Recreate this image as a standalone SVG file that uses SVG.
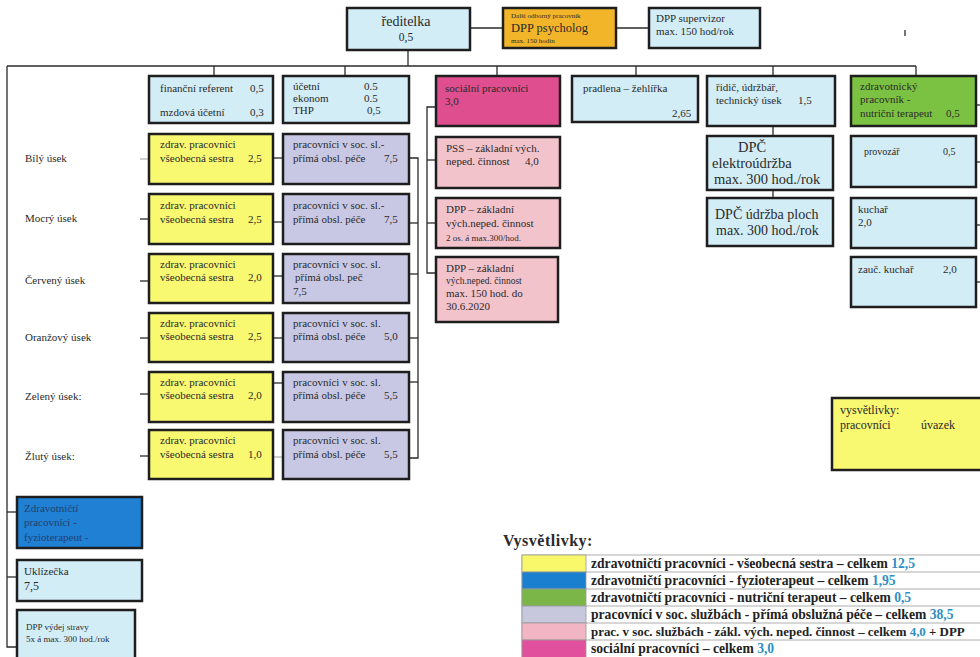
<svg xmlns="http://www.w3.org/2000/svg" width="980" height="657" viewBox="0 0 980 657">
<style>
  text { font-family: "Liberation Serif", "DejaVu Serif", serif; fill: #2a2a2a; font-size: 11px; }
  .b { stroke: #1e1e1e; stroke-width: 2.5; }
  .lb { fill: #d3edf6; }
  .or { fill: #f2b52a; }
  .ye { fill: #f9f871; }
  .pu { fill: #c9c8e4; }
  .pk { fill: #f3c3cc; }
  .mg { fill: #df4e8f; }
  .gr { fill: #7cc242; }
  .bl { fill: #1f80d4; }
  .c line, .c path { stroke: #2a2a2a; stroke-width: 1.3; fill: none; }
  .sm { font-size: 9px; }
  .tiny { font-size: 7px; }
  .big { font-size: 14.5px; }
  .mid { font-size: 12px; }
  .lg { font-weight: bold; font-size: 13.6px; fill: #222; }
  .v { fill: #2f8fc4; }
  .sw { stroke: #9a9a9a; stroke-width: 0.8; }
  .fz { fill: #23406e; }
</style>

<g id="connectors" class="c">
  <line x1="408" y1="50" x2="408" y2="66"/>
  <line x1="470" y1="28" x2="503" y2="28"/>
  <line x1="616" y1="28" x2="649" y2="28"/>
  <line x1="7" y1="66" x2="916" y2="66"/>
  <line x1="214" y1="66" x2="214" y2="76"/>
  <line x1="345" y1="66" x2="345" y2="76"/>
  <line x1="497" y1="66" x2="497" y2="76"/>
  <line x1="636" y1="66" x2="636" y2="76"/>
  <line x1="773" y1="66" x2="773" y2="76"/>
  <line x1="916" y1="66" x2="916" y2="76"/>
  <path d="M7 66 V647 H17"/>
  <line x1="7" y1="512" x2="17" y2="512"/>
  <line x1="7" y1="577" x2="17" y2="577"/>
  <line x1="140" y1="159" x2="149" y2="159" stroke-opacity="0.35"/>
  <line x1="140" y1="219" x2="149" y2="219"/>
  <line x1="140" y1="281" x2="149" y2="281"/>
  <line x1="140" y1="338" x2="149" y2="338"/>
  <line x1="140" y1="394" x2="149" y2="394"/>
  <line x1="140" y1="456" x2="149" y2="456"/>
  <line x1="273" y1="158" x2="283" y2="158"/>
  <line x1="273" y1="222" x2="283" y2="222"/>
  <line x1="273" y1="276" x2="283" y2="276"/>
  <line x1="273" y1="338" x2="283" y2="338"/>
  <line x1="273" y1="383" x2="283" y2="383"/>
  <line x1="273" y1="457" x2="283" y2="457" stroke-opacity="0.35"/>
  <path d="M409 158 H418 V458 H409"/>
  <line x1="409" y1="223" x2="418" y2="223"/>
  <line x1="409" y1="274" x2="418" y2="274"/>
  <line x1="409" y1="338" x2="418" y2="338"/>
  <line x1="409" y1="382" x2="418" y2="382"/>
  <path d="M436 107 H427 V273 H436"/>
  <line x1="427" y1="160" x2="436" y2="160"/>
  <line x1="427" y1="223" x2="436" y2="223"/>
  <line x1="773" y1="126" x2="773" y2="136"/>
  <line x1="773" y1="190" x2="773" y2="198"/>
  <line x1="976" y1="105" x2="980" y2="105"/>
  <line x1="976" y1="162" x2="980" y2="162"/>
  <line x1="976" y1="225" x2="980" y2="225"/>
  <line x1="976" y1="282" x2="980" y2="282"/>
  <line x1="905" y1="30" x2="905" y2="36" stroke-width="1"/>
</g>

<g id="reditelka">
  <rect class="b lb" x="347" y="8" width="123" height="42"/>
  <text x="406" y="26" text-anchor="middle" style="font-size:14px">ředitelka</text>
  <text x="406" y="41" text-anchor="middle" style="font-size:11.5px">0,5</text>
</g>
<g id="psycholog">
  <rect class="b or" x="503" y="8" width="113" height="40"/>
  <text x="511" y="18" class="tiny">Další odborný pracovník</text>
  <text x="511" y="32" style="font-size:12.5px">DPP psycholog</text>
  <text x="511" y="43" class="tiny">max. 150 hodin</text>
</g>
<g id="supervizor">
  <rect class="b lb" x="649" y="8" width="111" height="40"/>
  <text x="656" y="22">DPP supervizor</text>
  <text x="656" y="35">max. 150 hod/rok</text>
</g>

<g id="financni">
  <rect class="b lb" x="149" y="76" width="124" height="47"/>
  <text x="160" y="92">finanční referent</text>
  <text x="250" y="92">0,5</text>
  <text x="160" y="116">mzdová účetní</text>
  <text x="250" y="116">0,3</text>
</g>
<g id="ucetni">
  <rect class="b lb" x="283" y="76" width="126" height="47"/>
  <text x="293" y="90">účetní</text><text x="364" y="90">0.5</text>
  <text x="293" y="102">ekonom</text><text x="364" y="102">0.5</text>
  <text x="293" y="114">THP</text><text x="367" y="114">0,5</text>
</g>
<g id="socialni">
  <rect class="b mg" x="436" y="76" width="124" height="50"/>
  <text x="445" y="92">sociální pracovníci</text>
  <text x="445" y="105">3,0</text>
</g>
<g id="pradlena">
  <rect class="b lb" x="572" y="76" width="126" height="46"/>
  <text x="583" y="92">pradlena – žehlířka</text>
  <text x="672" y="117">2,65</text>
</g>
<g id="ridic">
  <rect class="b lb" x="707" y="76" width="128" height="50"/>
  <text x="716" y="91">řidič, údržbář,</text>
  <text x="716" y="104">technický úsek</text>
  <text x="798" y="104">1,5</text>
</g>
<g id="nutricni">
  <rect class="b gr" x="851" y="76" width="125" height="50"/>
  <text x="860" y="90">zdravotnický</text>
  <text x="860" y="103">pracovník -</text>
  <text x="860" y="117">nutriční terapeut</text>
  <text x="946" y="117">0,5</text>
</g>

<g id="labels">
  <text x="25" y="162">Bílý úsek</text>
  <text x="25" y="222">Mocrý úsek</text>
  <text x="25" y="284">Červený úsek</text>
  <text x="25" y="341">Oranžový úsek</text>
  <text x="25" y="400">Zelený úsek:</text>
  <text x="25" y="460">Žlutý úsek:</text>
</g>

<g id="bily-zdrav">
  <rect class="b ye" x="149" y="134" width="124" height="50"/>
  <text x="160" y="148">zdrav. pracovníci</text>
  <text x="160" y="162">všeobecná sestra</text><text x="248" y="162">2,5</text>
</g>
<g id="bily-soc">
  <rect class="b pu" x="283" y="134" width="126" height="50"/>
  <text x="293" y="148">pracovníci v soc. sl.-</text>
  <text x="293" y="162">přímá obsl. péče</text><text x="384" y="162">7,5</text>
</g>
<g id="mocry-zdrav">
  <rect class="b ye" x="149" y="194" width="124" height="50"/>
  <text x="160" y="209">zdrav. pracovníci</text>
  <text x="160" y="223">všeobecná sestra</text><text x="248" y="223">2,5</text>
</g>
<g id="mocry-soc">
  <rect class="b pu" x="283" y="194" width="126" height="50"/>
  <text x="293" y="209">pracovníci v soc. sl.-</text>
  <text x="293" y="223">přímá obsl. péče</text><text x="384" y="223">7,5</text>
</g>
<g id="cerveny-zdrav">
  <rect class="b ye" x="149" y="254" width="124" height="49"/>
  <text x="160" y="268">zdrav. pracovníci</text>
  <text x="160" y="281">všeobecná sestra</text><text x="248" y="281">2,0</text>
</g>
<g id="cerveny-soc">
  <rect class="b pu" x="283" y="254" width="126" height="49"/>
  <text x="293" y="268">pracovníci v soc. sl.</text>
  <text x="295" y="281">přímá obsl. peč</text>
  <text x="293" y="295">7,5</text>
</g>
<g id="oranzovy-zdrav">
  <rect class="b ye" x="149" y="313" width="124" height="49"/>
  <text x="160" y="327">zdrav. pracovníci</text>
  <text x="160" y="340">všeobecná sestra</text><text x="248" y="340">2,5</text>
</g>
<g id="oranzovy-soc">
  <rect class="b pu" x="283" y="313" width="126" height="49"/>
  <text x="293" y="327">pracovníci v soc. sl.</text>
  <text x="293" y="340">přímá obsl. péče</text><text x="384" y="340">5,0</text>
</g>
<g id="zeleny-zdrav">
  <rect class="b ye" x="149" y="372" width="124" height="50"/>
  <text x="160" y="386">zdrav. pracovníci</text>
  <text x="160" y="399">všeobecná sestra</text><text x="248" y="399">2,0</text>
</g>
<g id="zeleny-soc">
  <rect class="b pu" x="283" y="372" width="126" height="50"/>
  <text x="293" y="386">pracovníci v soc. sl.</text>
  <text x="293" y="399">přímá obsl. péče</text><text x="384" y="399">5,5</text>
</g>
<g id="zluty-zdrav">
  <rect class="b ye" x="149" y="430" width="124" height="49"/>
  <text x="160" y="444">zdrav. pracovníci</text>
  <text x="160" y="458">všeobecná sestra</text><text x="248" y="458">1,0</text>
</g>
<g id="zluty-soc">
  <rect class="b pu" x="283" y="430" width="126" height="49"/>
  <text x="293" y="444">pracovníci v soc. sl.</text>
  <text x="293" y="458">přímá obsl. péče</text><text x="384" y="458">5,5</text>
</g>

<g id="pss">
  <rect class="b pk" x="436" y="137" width="124" height="51"/>
  <text x="446" y="152">PSS – základní vých.</text>
  <text x="446" y="165">neped. činnost</text><text x="525" y="165">4,0</text>
</g>
<g id="dpp-zakladni-1">
  <rect class="b pk" x="436" y="198" width="124" height="50"/>
  <text x="446" y="213">DPP – základní</text>
  <text x="446" y="227">vých.neped. činnost</text>
  <text x="446" y="241" class="sm">2 os. á  max.300/hod.</text>
</g>
<g id="dpp-zakladni-2">
  <rect class="b pk" x="436" y="257" width="122" height="65"/>
  <text x="446" y="272">DPP – základní</text>
  <text x="446" y="284" style="font-size:9.5px">vých.neped. činnost</text>
  <text x="446" y="297">max. 150 hod. do</text>
  <text x="446" y="310">30.6.2020</text>
</g>

<g id="dpc-elektro">
  <rect class="b lb" x="707" y="136" width="126" height="54"/>
  <text x="738" y="152" class="big">DPČ</text>
  <text x="712" y="168" class="big">elektroúdržba</text>
  <text x="714" y="184" class="big">max. 300 hod./rok</text>
</g>
<g id="dpc-plochy">
  <rect class="b lb" x="707" y="198" width="126" height="48"/>
  <text x="715" y="219" style="font-size:14px">DPČ údržba ploch</text>
  <text x="716" y="235" style="font-size:14px">max. 300 hod./rok</text>
</g>

<g id="provozar">
  <rect class="b lb" x="851" y="136" width="125" height="51"/>
  <text x="864" y="155" style="font-size:10px">provozář</text>
  <text x="943" y="155" style="font-size:10px">0,5</text>
</g>
<g id="kuchar">
  <rect class="b lb" x="851" y="198" width="125" height="50"/>
  <text x="858" y="213">kuchař</text>
  <text x="858" y="226">2,0</text>
</g>
<g id="zauc-kuchar">
  <rect class="b lb" x="851" y="257" width="125" height="50"/>
  <text x="858" y="273">zauč. kuchař</text>
  <text x="943" y="273">2,0</text>
</g>

<g id="vysvetlivky-box">
  <rect class="b ye" x="832" y="398" width="160" height="72"/>
  <text x="840" y="414" class="mid">vysvětlivky:</text>
  <text x="840" y="429" class="mid">pracovníci</text>
  <text x="921" y="429" class="mid">úvazek</text>
</g>

<g id="fyzioterapeut">
  <rect class="b bl" x="17" y="497" width="125" height="51"/>
  <text x="24" y="512" class="fz">Zdravotničtí</text>
  <text x="24" y="526" class="fz">pracovníci -</text>
  <text x="24" y="541" class="fz">fyzioterapeut -</text>
</g>
<g id="uklizecka">
  <rect class="b lb" x="17" y="560" width="125" height="41"/>
  <text x="24" y="575">Uklízečka</text>
  <text x="24" y="590" class="mid">7,5</text>
</g>
<g id="dpp-vydej">
  <rect class="b lb" x="17" y="610" width="118" height="52"/>
  <text x="26" y="630" class="sm">DPP výdej stravy</text>
  <text x="26" y="642" class="sm">5x á max. 300 hod./rok</text>
</g>

<g id="legenda">
  <text x="503" y="546" style="font-size:16px;font-weight:bold;letter-spacing:0.5px">Vysvětlivky:</text>
  <rect x="522" y="555" width="470" height="110" fill="#fff" class="sw"/>
  <rect x="522" y="555" width="64" height="17" fill="#f9f86a" class="sw"/>
  <rect x="522" y="572" width="64" height="17" fill="#1b7fcf" class="sw"/>
  <rect x="522" y="589" width="64" height="17" fill="#7ab648" class="sw"/>
  <rect x="522" y="606" width="64" height="17" fill="#c7c8dd" class="sw"/>
  <rect x="522" y="623" width="64" height="17" fill="#f2b5c3" class="sw"/>
  <rect x="522" y="640" width="64" height="20" fill="#e0509c" class="sw"/>
  <line x1="586" y1="572" x2="980" y2="572" class="sw"/>
  <line x1="586" y1="589" x2="980" y2="589" class="sw"/>
  <line x1="586" y1="606" x2="980" y2="606" class="sw"/>
  <line x1="586" y1="623" x2="980" y2="623" class="sw"/>
  <line x1="586" y1="640" x2="980" y2="640" class="sw"/>
  <text x="591" y="568" class="lg">zdravotničtí pracovníci - všeobecná sestra – celkem <tspan class="v">12,5</tspan></text>
  <text x="591" y="585" class="lg">zdravotničtí pracovníci  - fyzioterapeut – celkem <tspan class="v">1,95</tspan></text>
  <text x="591" y="602" class="lg">zdravotničtí pracovníci - nutriční terapeut – celkem <tspan class="v">0,5</tspan></text>
  <text x="591" y="619" class="lg">pracovníci v soc. službách - přímá obslužná péče  – celkem <tspan class="v">38,5</tspan></text>
  <text x="591" y="636" class="lg" style="font-size:12.9px">prac. v soc. službách - zákl. vých. neped. činnost – celkem <tspan class="v">4,0</tspan> + DPP</text>
  <text x="591" y="653" class="lg">sociální pracovníci – celkem <tspan class="v">3,0</tspan></text>
</g>
</svg>
